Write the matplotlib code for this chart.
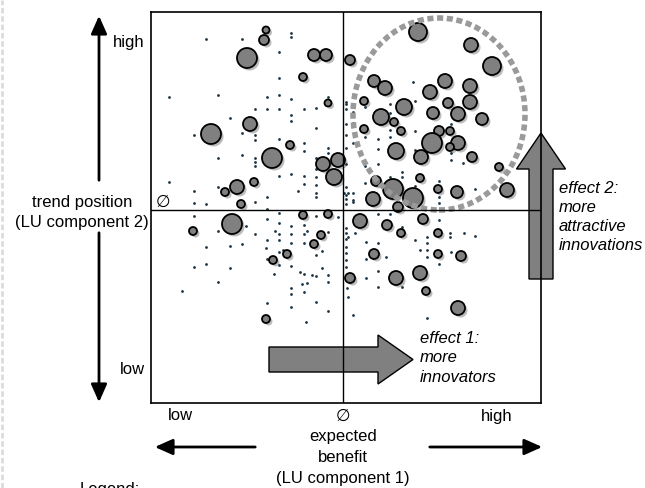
import matplotlib.pyplot as plt
import matplotlib.transforms as mtransforms
from matplotlib.patches import Ellipse, FancyArrow, FancyArrowPatch
from matplotlib.lines import Line2D

plt.rcParams['font.family'] = ['Liberation Sans', 'DejaVu Sans']

# innovations: expected benefit (LU component 1), trend position (LU component 2), relevance
bubble_benefit = [-77, -79, -96, -29, -17, -40, -15, -93, -132, -53, -71, -20, -5, -9,
                  -106, -118, -89, -102, 7, -111, -150, -40, -15, -22, -29, -56, -70, -77,
                  75, 128, 149, 31, 42, 102, 87, 127, 127, 21, 61, 105, 90, 115, 139, 38,
                  51, 21, 58, 96, 107, 89, 115, 107, 53, 78, 129, 156, 164, 77, 33, 50,
                  70, 95, 114, 30, 55, 17, 44, 58, 80, 95, 31, 95, 118, 7, 53, 77, 83, 115]
bubble_trend = [180, 170, 152, 155, 155, 133, 107, 86, 76, 65, 52, 46, 50, 33,
                23, 18, 28, 6, 150, -14, -21, -5, -4, -25, -34, -44, -50, -109,
                178, 165, 144, 129, 122, 129, 118, 124, 108, 109, 103, 107, 97, 96, 91, 93,
                88, 81, 79, 79, 79, 67, 67, 63, 59, 53, 53, 43, 20, 32, 29, 21,
                12, 21, 18, 11, 3, -11, -15, -23, -9, -23, -44, -44, -46, -68, -68, -63, -81, -98]
bubble_radius = [3.5, 5, 10, 6, 6, 4, 3.5, 7, 10, 4, 10, 7, 7, 8,
                 7, 4, 4, 4, 5, 10, 4, 4, 4, 4, 4, 4, 4, 4,
                 9, 7, 9, 6, 7, 7, 7, 7, 7, 4, 8, 5, 6, 7, 6, 8,
                 4, 4, 4, 5, 4, 10, 7, 4, 8, 7, 5, 4, 7, 4, 5, 10,
                 10, 4, 6, 7, 5, 7, 5, 4, 5, 4, 5, 4, 5, 5, 7, 7, 4, 7]

# single users (small dots)
dot_benefit = [-137, -101, -52, -52, -64, -64, -174, -125, -76, -64, -52, -15, -88, -76,
               -64, -39, -27, -52, -52, -113, -27, -149, -101, -88, -88, -64, -39, -39,
               -15, -15, -125, -101, -88, -88, -88, -27, -64, -52, -39, -39, -27, -27,
               -27, -174, -149, -125, -76, -45, -27, -27, -149, -137, -88, 3, 3, 3, 3,
               3, 3, 1, 5, 3, 3,
               -76, -64, -149, -76, -64, -52, -39, -27, -5, -97, -125, -88, -68, -64,
               -52, -39, -36, -15, -137, -113, -101, -76, -64, -52, -39, -77, -60, -21,
               -27, -64, -76, -52, -64, -149, -137, -113, -43, -39, -31, -27, -21, -15,
               -15, -69, -125, -161, -41, -36, -52, -52, -39, -27, -76, -52, -15, -37,
               3, 3, 3, 3, 3, 3, 3, 5, 4, 5,
               10, 35, 47, 12, 23, 35, 59, 72, 84, 84, 77, 84, 84, 107, 107, 121, 132,
               96, 96, 108, 43, 23, 35, 23, 35, 59, 10, 84, 96,
               70, 3, 10, 10, 10, 22, 22, 35, 35, 47, 47, 47, 47, 47, 72, 72, 72, 108,
               108, 108, 120, 96, 96, 132, 22, 35, 47, 59, 59, 72, 77, 3, 10, 10, 35,
               22, 3]
dot_trend = [171, 171, 177, 173, 158, 132, 113, 115, 113, 115, 111, 113, 101, 101,
             101, 101, 102, 95, 89, 92, 82, 75, 77, 75, 70, 71, 67, 59,
             62, 57, 52, 55, 52, 48, 44, 52, 34, 36, 34, 26, 41, 33,
             25, 28, 19, 23, 13, 19, 17, 13, 7, 6, 8, 106, 101, 86, 75,
             46, 23, 17, 17, 11, 6,
             1, -3, -6, -9, -13, -16, -15, -6, -7, -16, -21, -24, -21, -24,
             -24, -24, -21, -22, -37, -36, -34, -30, -30, -33, -33, -38, -40, -41,
             -45, -42, -49, -56, -55, -57, -54, -58, -62, -64, -65, -66, -58, -65,
             -72, -64, -72, -81, -74, -73, -78, -84, -82, -92, -93, -97, -101, -112,
             -18, -23, -29, -37, -43, -50, -57, -27, -78, -87,
             8, -4, -4, -23, -32, -33, -17, -30, -27, -33, -40, -40, -47, -23, -27, -23, -26,
             -10, -54, -42, -47, -49, -61, -68, -77, -77, -105, -108, 7,
             128, 62, 98, 87, 67, 103, 73, 71, 61, 106, 97, 80, 73, 60, 109, 79, 60, 86,
             57, 50, 47, 29, 13, 21, 44, 46, 33, 38, 33, 24, 12, 15, 17, 10, 27,
             27, 108]

axis_min = "low"
axis_max = "high"
average = "\u2205"


def px(x, y):
    """pixel position (from top left) to figure fraction"""
    return x / 645, 1 - y / 488


fig = plt.figure(figsize=(6.45, 4.88), dpi=100)
ax = fig.add_axes([151 / 645, 1 - 403 / 488, 390 / 645, 391 / 488])
ax.set_xlim(-192, 198)
ax.set_ylim(-193, 198)
ax.set_xticks([])
ax.set_yticks([])
for s in ax.spines.values():
    s.set_linewidth(1.2)
    s.set_zorder(6)

ax.axhline(0, color='black', lw=1, zorder=5)
ax.axvline(0, color='black', lw=1, zorder=5)

sizes = [(2 * r * 0.72) ** 2 for r in bubble_radius]
shadow = mtransforms.offset_copy(ax.transData, fig=fig, x=2.5, y=-2.5, units='dots')
ax.scatter(bubble_benefit, bubble_trend, s=sizes, color='#bcbcbc', linewidths=0,
           transform=shadow, zorder=1)
ax.scatter(dot_benefit, dot_trend, s=4, color='#1c3442', linewidths=0, zorder=2)
ax.scatter(bubble_benefit, bubble_trend, s=sizes, color='#808080', edgecolors='black',
           linewidths=1.3, zorder=3)

# cluster of attractive innovations
ax.add_patch(Ellipse((96, 96), 172, 192, fill=False, ec='#9a9a9a', lw=4,
                     linestyle=(0, (1.1, 0.65)), zorder=4))

# effect arrows
ax.add_patch(FancyArrow(-74, -149.5, 144, 0, width=25, head_width=49, head_length=35,
                        length_includes_head=True, fc='#808080', ec='black', lw=1,
                        zorder=4.5, clip_on=False))
ax.add_patch(FancyArrow(198, -69, 0, 146, width=24, head_width=49, head_length=36,
                        length_includes_head=True, fc='#808080', ec='black', lw=1,
                        zorder=4.5, clip_on=False))

ax.text(77, -148, "effect 1:\nmore\ninnovators", fontsize=12, style='italic',
        va='center', ha='left', linespacing=1.4)
ax.text(216, -7, "effect 2:\nmore\nattractive\ninnovations", fontsize=12,
        style='italic', va='center', ha='left', linespacing=1.35)

# outer axis labels
fs = 12
fig.text(*px(145, 43), axis_max, fontsize=fs, ha='right', va='center')
fig.text(*px(145, 370), axis_min, fontsize=fs, ha='right', va='center')
fig.text(*px(82, 202), "trend position", fontsize=fs, ha='center', va='center')
fig.text(*px(82, 222), "(LU component 2)", fontsize=fs, ha='center', va='center')
fig.text(*px(163, 202), average, fontsize=12, ha='center', va='center')

fig.text(*px(180, 416), axis_min, fontsize=fs, ha='center', va='center')
fig.text(*px(497, 416), axis_max, fontsize=fs, ha='center', va='center')
fig.text(*px(343, 416), average, fontsize=12, ha='center', va='center')
fig.text(*px(343, 437), "expected", fontsize=fs, ha='center', va='center')
fig.text(*px(343, 458), "benefit", fontsize=fs, ha='center', va='center')
fig.text(*px(343, 478), "(LU component 1)", fontsize=fs, ha='center', va='center')
fig.text(*px(80, 482), "Legend:", fontsize=fs, ha='left', va='top')

arrow_kw = dict(arrowstyle='-|>,head_length=0.9,head_width=0.4', color='black', lw=2,
                mutation_scale=12, transform=fig.transFigure)
for start, end in [((99, 183), (99, 13)), ((99, 230), (99, 405)),
                   ((258, 447), (152, 447)), ((427, 447), (545, 447))]:
    fig.add_artist(FancyArrowPatch(px(*start), px(*end), **arrow_kw))

fig.add_artist(Line2D([2 / 645, 2 / 645], [0, 1], color='#dcdcdc', lw=2,
                      linestyle=(0, (2, 1)), transform=fig.transFigure))

fig.savefig('out.png', dpi=100)
